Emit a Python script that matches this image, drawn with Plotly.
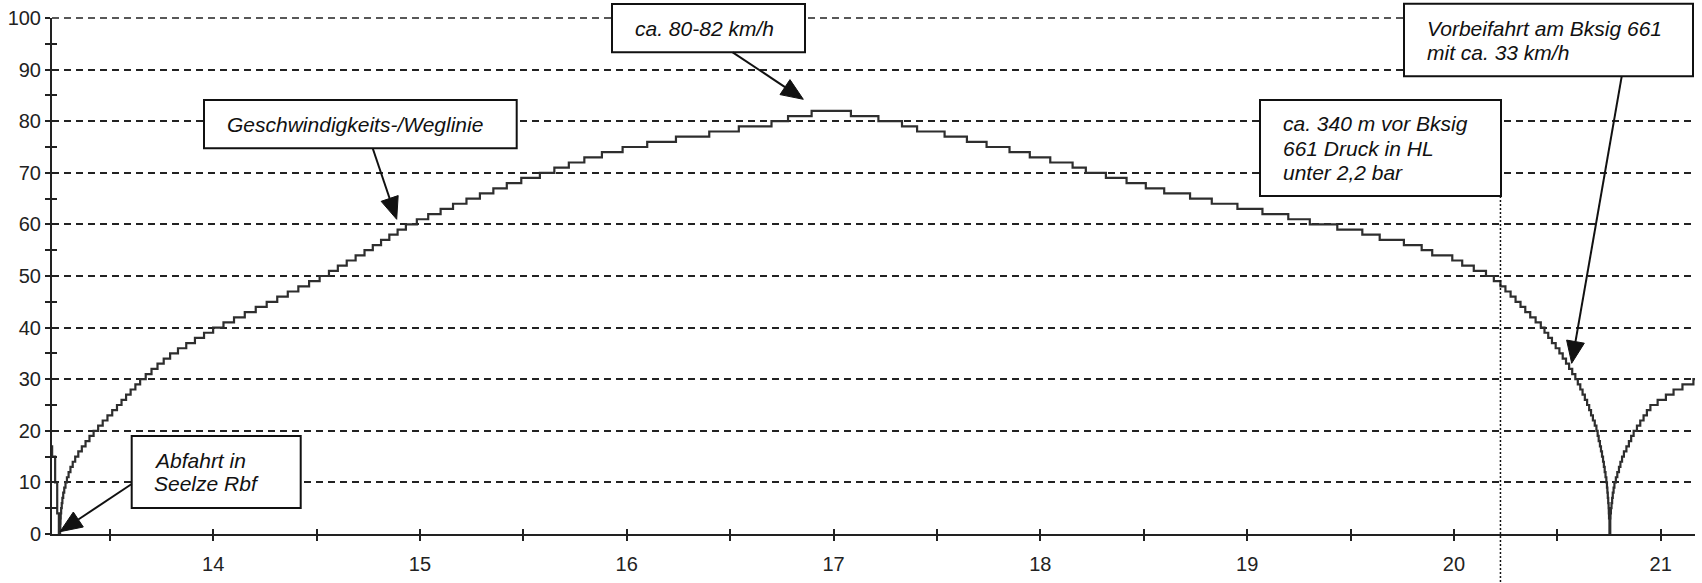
import plotly.graph_objects as go

# ---------------- data (distance in km, speed in km/h) ----------------
START_KM = [13.2208, 13.2215, 13.236, 13.246, 13.254]
START_KMH = [17, 15, 10, 4, 0]

ACC_KM = [13.260, 13.261, 13.262, 13.263, 13.265, 13.268, 13.271, 13.275, 13.280, 13.286,
          13.293, 13.301, 13.310, 13.321, 13.333, 13.348, 13.365, 13.383, 13.402, 13.422,
          13.444, 13.466, 13.489, 13.512, 13.535, 13.557, 13.579, 13.601, 13.624, 13.647,
          13.674, 13.702, 13.731, 13.761, 13.792, 13.830, 13.870, 13.912, 13.956, 14.000,
          14.050, 14.101, 14.153, 14.206, 14.259, 14.310, 14.361, 14.412, 14.464, 14.515,
          14.560, 14.603, 14.646, 14.689, 14.732, 14.772, 14.812, 14.852, 14.892, 14.932,
          14.985, 15.040, 15.100, 15.160, 15.225, 15.290, 15.355, 15.420, 15.490, 15.580,
          15.650, 15.720, 15.795, 15.880, 15.980, 16.099, 16.238, 16.399, 16.542, 16.700,
          16.780, 16.894]
ACC_KMH = [1, 2, 3, 4, 5, 6, 7, 8, 9, 10,
           11, 12, 13, 14, 15, 16, 17, 18, 19, 20,
           21, 22, 23, 24, 25, 26, 27, 28, 29, 30,
           31, 32, 33, 34, 35, 36, 37, 38, 39, 40,
           41, 42, 43, 44, 45, 46, 47, 48, 49, 50,
           51, 52, 53, 54, 55, 56, 57, 58, 59, 60,
           61, 62, 63, 64, 65, 66, 67, 68, 69, 70,
           71, 72, 73, 74, 75, 76, 77, 78, 79, 80,
           81, 82]

BRAKE_KM = [17.084, 17.217, 17.331, 17.404, 17.537, 17.645, 17.740, 17.851, 17.949, 18.048,
            18.156, 18.220, 18.317, 18.417, 18.510, 18.599, 18.724, 18.829, 18.953, 19.074,
            19.199, 19.303, 19.436, 19.557, 19.641, 19.758, 19.844, 19.895, 19.992, 20.040,
            20.096, 20.155, 20.193, 20.225, 20.249, 20.274, 20.298, 20.322, 20.345, 20.369,
            20.395, 20.420, 20.438, 20.456, 20.474, 20.492, 20.510, 20.526, 20.542, 20.557,
            20.572, 20.587, 20.599, 20.611, 20.622, 20.633, 20.644, 20.654, 20.663, 20.672,
            20.681, 20.689, 20.695, 20.700, 20.706, 20.711, 20.716, 20.721, 20.725, 20.729,
            20.733, 20.737, 20.740, 20.742, 20.744, 20.746, 20.748, 20.749, 20.750,
            20.752]
BRAKE_KMH = [81, 80, 79, 78, 77, 76, 75, 74, 73, 72,
             71, 70, 69, 68, 67, 66, 65, 64, 63, 62,
             61, 60, 59, 58, 57, 56, 55, 54, 53, 52,
             51, 50, 49, 48, 47, 46, 45, 44, 43, 42,
             41, 40, 39, 38, 37, 36, 35, 34, 33, 32,
             31, 30, 29, 28, 27, 26, 25, 24, 23, 22,
             21, 20, 19, 18, 17, 16, 15, 14, 13, 12,
             11, 10, 9, 8, 7, 6, 5, 4, 3,
             0]

REACC_KM = [20.756, 20.757, 20.759, 20.762, 20.765, 20.768, 20.772, 20.776,
            20.783, 20.790, 20.798, 20.805, 20.813, 20.822, 20.834, 20.846, 20.857, 20.869,
            20.885, 20.901, 20.917, 20.933, 20.950, 20.985, 21.025, 21.062, 21.105, 21.158,
            21.1657]
REACC_KMH = [3, 4, 5, 6, 7, 8, 9, 10,
             11, 12, 13, 14, 15, 16, 17, 18, 19, 20,
             21, 22, 23, 24, 25, 26, 27, 28, 29, 30,
             30]

X_RANGE = [13.2208, 21.1657]
Y_RANGE = [0, 100]
X_TICKS = [14, 15, 16, 17, 18, 19, 20, 21]
X_TICK_LABELS = ["14", "15", "16", "17", "18", "19", "20", "21"]
X_ALL_TICKS = [13.5, 14, 14.5, 15, 15.5, 16, 16.5, 17, 17.5, 18, 18.5, 19, 19.5, 20, 20.5, 21]
Y_TICKS = [0, 10, 20, 30, 40, 50, 60, 70, 80, 90, 100]
Y_TICK_LABELS = ["0", "10", "20", "30", "40", "50", "60", "70", "80", "90", "100"]
Y_ALL_TICKS = [0, 5, 10, 15, 20, 25, 30, 35, 40, 45, 50, 55, 60, 65, 70, 75, 80, 85, 90, 95, 100]
HL_KM = 20.225  # point where brake-pipe pressure fell below 2.2 bar

KM = START_KM + ACC_KM + BRAKE_KM + REACC_KM
KMH = START_KMH + ACC_KMH + BRAKE_KMH + REACC_KMH

# ---------------- layout geometry ----------------
W, H = 1702, 583
ML, MR, MT, MB = 52, 7, 18, 49
PW = W - ML - MR
PH = H - MT - MB


def px(x):
    return (x - ML) / PW


def py(y):
    return (H - MB - y) / PH


FONT = "Liberation Sans, Arial, sans-serif"
INK = "#111111"
GRID = dict(color="#222", width=1.5, dash="7px,5px")

fig = go.Figure()
fig.add_trace(go.Scatter(x=KM, y=KMH, mode="lines", line=dict(color="#2e2e2e", width=2.2, shape="hv"),
                         hoverinfo="skip", showlegend=False))
# overlay trace to carry the inner tick marks
fig.add_trace(go.Scatter(x=KM, y=KMH, mode="lines", line=dict(color="rgba(0,0,0,0)", width=0),
                         xaxis="x2", yaxis="y2", hoverinfo="skip", showlegend=False))

tickfont = dict(family=FONT, size=20, color="#222222")
fig.update_layout(
    width=W, height=H,
    margin=dict(l=ML, r=MR, t=MT, b=MB, pad=0),
    paper_bgcolor="white", plot_bgcolor="white",
    showlegend=False,
    xaxis=dict(range=X_RANGE, tickmode="array", tickvals=X_TICKS, ticktext=X_TICK_LABELS,
               ticks="outside", ticklen=5, tickwidth=1.5, tickcolor="#222",
               minor=dict(tickmode="array", tickvals=X_ALL_TICKS, ticks="outside", ticklen=5,
                          tickwidth=1.5, tickcolor="#222", showgrid=False),
               showline=True, linecolor="#222", linewidth=2,
               showgrid=False, zeroline=False, tickfont=tickfont, ticklabelstandoff=6),
    yaxis=dict(range=Y_RANGE, tickmode="array", tickvals=Y_TICKS, ticktext=Y_TICK_LABELS,
               ticks="outside", ticklen=5, tickwidth=1.5, tickcolor="#222",
               minor=dict(tickmode="array", tickvals=Y_ALL_TICKS, ticks="outside", ticklen=5,
                          tickwidth=1.5, tickcolor="#222", showgrid=False),
               showline=True, linecolor="#222", linewidth=2,
               showgrid=True, gridcolor=GRID["color"], gridwidth=GRID["width"], griddash=GRID["dash"],
               zeroline=False, tickfont=tickfont),
    xaxis2=dict(range=X_RANGE, tickmode="array", tickvals=X_ALL_TICKS, ticks="inside", ticklen=5,
                tickwidth=1.5, tickcolor="#222", showticklabels=False, showline=False, showgrid=False,
                zeroline=False, overlaying="x", anchor="y2", side="bottom"),
    yaxis2=dict(range=Y_RANGE, tickmode="array", tickvals=Y_ALL_TICKS, ticks="inside", ticklen=5,
                tickwidth=1.5, tickcolor="#222", showticklabels=False, showline=False, showgrid=False,
                zeroline=False, overlaying="y", anchor="x2", side="left"),
)

shapes = []
# top grid line at the range edge (plotly omits it); paper-referenced so it is not clipped
shapes.append(dict(type="line", xref="paper", yref="paper", x0=0, x1=1, y0=1, y1=1,
                   line=GRID, layer="below"))
# dotted marker line
shapes.append(dict(type="line", xref="x", yref="paper", x0=HL_KM, x1=HL_KM, y0=py(196), y1=py(583),
                   line=dict(color="#111", width=1.5, dash="2px,2px")))

# annotation boxes (pixel positions)
BOXES = [(131.7, 436, 300.7, 508), (204, 100, 516.7, 148.3), (612, 4, 805, 52.3),
         (1260, 100, 1501, 196), (1404, 3.7, 1693, 76.3)]
for x0, y0, x1, y1 in BOXES:
    shapes.append(dict(type="rect", xref="paper", yref="paper", x0=px(x0), x1=px(x1), y0=py(y1), y1=py(y0),
                       line=dict(color="#111", width=2), fillcolor="white", layer="above"))

# arrows: (tail, tip) in pixels
ARROWS = [((131.7, 484), (60, 531.7)), ((372.7, 148.3), (396.7, 219.3)),
          ((732.7, 52.3), (803.3, 99.3)), ((1621.7, 76.3), (1571.7, 363.3))]
HL, HW = 22, 9
for (tx, ty), (hx, hy) in ARROWS:
    dx, dy = hx - tx, hy - ty
    n = (dx * dx + dy * dy) ** 0.5
    ux, uy = dx / n, dy / n
    bx, by = hx - ux * HL, hy - uy * HL
    shapes.append(dict(type="line", xref="paper", yref="paper", x0=px(tx), y0=py(ty), x1=px(bx), y1=py(by),
                       line=dict(color="#111", width=2)))
    p1 = (bx - uy * HW, by + ux * HW)
    p2 = (bx + uy * HW, by - ux * HW)
    path = "M {} {} L {} {} L {} {} Z".format(px(hx), py(hy), px(p1[0]), py(p1[1]), px(p2[0]), py(p2[1]))
    shapes.append(dict(type="path", xref="paper", yref="paper", path=path,
                       line=dict(color="#111", width=1), fillcolor="#111"))
fig.update_layout(shapes=shapes)

TEXTS = [("Abfahrt in", 153, 460), ("Seelze Rbf", 153, 483),
         ("Geschwindigkeits-/Weglinie", 226, 124),
         ("ca. 80-82 km/h", 634, 28.3),
         ("ca. 340 m vor Bksig", 1281.7, 123), ("661 Druck in HL", 1281.7, 148), ("unter 2,2 bar", 1281.7, 172),
         ("Vorbeifahrt am Bksig 661", 1426, 28), ("mit ca. 33 km/h", 1426, 52)]
for t, x, y in TEXTS:
    fig.add_annotation(text="<i>" + t + "</i>", xref="paper", yref="paper", x=px(x), y=py(y),
                       xanchor="left", yanchor="middle", showarrow=False, borderpad=0,
                       font=dict(family=FONT, size=21, color=INK))

fig.write_html("out.html", config={"displayModeBar": False},
               post_script="document.body.style.margin='0';")
